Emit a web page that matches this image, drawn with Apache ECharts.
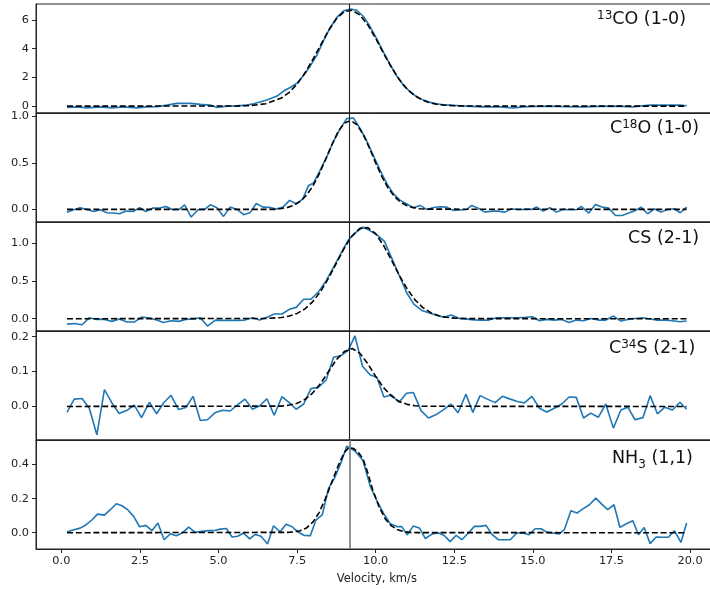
<!DOCTYPE html>
<html><head><meta charset="utf-8">
<script src="https://cdn.jsdelivr.net/npm/echarts@6/dist/echarts.min.js"></script>
<style>html,body{margin:0;padding:0;background:#fff}#c{width:710px;height:589px}</style>
</head><body><div id="c"></div>
<script>
// ---------- data ----------
const co13V = [0.18,0.5,0.82,1.24,1.61,1.98,2.41,2.72,3.04,3.36,3.68,4.1,4.42,4.74,4.95,5.27,5.58,5.9,6.12,6.54,6.86,7.07,7.28,7.5,7.71,7.92,8.14,8.35,8.56,8.77,8.98,9.19,9.4,9.61,9.82,10.03,10.25,10.46,10.67,10.88,11.09,11.3,11.52,11.73,11.94,12.15,12.36,12.68,12.89,13.42,13.95,14.37,14.69,15.1,15.54,16.1,16.6,17.1,17.66,18.19,18.72,19.25,19.67,19.89];
const co13T = [-0.09,-0.05,-0.12,-0.05,-0.12,-0.05,-0.12,-0.05,-0.04,0.07,0.19,0.19,0.12,0.07,-0.09,0.0,0.02,0.07,0.16,0.42,0.7,1.05,1.3,1.6,2.15,2.8,3.6,4.6,5.5,6.2,6.64,6.77,6.68,6.25,5.55,4.7,3.75,2.9,2.1,1.45,1.0,0.66,0.42,0.26,0.17,0.1,0.07,0.03,0.0,-0.05,-0.05,-0.13,-0.05,-0.02,0.0,-0.04,-0.05,-0.02,0.0,-0.05,0.08,0.07,0.07,0.02];
const co13FitV = [0.18,5.5,6.0,6.5,7.0,7.25,7.5,7.75,8.0,8.25,8.5,8.75,9.0,9.25,9.5,9.75,10.0,10.25,10.5,10.75,11.0,11.25,11.5,11.75,12.0,12.5,13.0,19.89];
const co13FitT = [0,0.006,0.035,0.16,0.565,0.96,1.54,2.31,3.25,4.27,5.27,6.09,6.59,6.68,6.35,5.66,4.72,3.69,2.70,1.86,1.19,0.72,0.41,0.215,0.107,0.021,0.003,0];

const c18oV = [0.18,0.39,0.60,0.82,1.03,1.24,1.45,1.66,1.85,2.07,2.28,2.49,2.69,2.90,3.12,3.33,3.54,3.75,3.92,4.13,4.35,4.56,4.74,4.95,5.16,5.37,5.59,5.80,6.01,6.20,6.41,6.62,6.84,7.05,7.26,7.47,7.68,7.86,8.02,8.23,8.44,8.65,8.87,9.08,9.29,9.5,9.71,9.93,10.14,10.35,10.56,10.77,10.99,11.2,11.41,11.62,11.84,12.05,12.26,12.47,12.69,12.9,13.05,13.26,13.47,13.68,13.89,14.11,14.32,14.53,14.74,14.96,15.12,15.33,15.54,15.75,15.96,16.17,16.38,16.54,16.78,16.99,17.2,17.41,17.63,17.84,18.05,18.26,18.44,18.65,18.86,19.07,19.29,19.5,19.69,19.89];
const c18oT = [-0.029,-0.004,0.018,0.0,-0.022,-0.004,-0.036,-0.039,-0.047,-0.018,-0.022,0.018,-0.022,0.014,0.014,0.032,-0.004,0.0,0.05,-0.082,-0.004,0.0,0.05,0.018,-0.075,0.025,0.0,-0.057,-0.032,0.063,0.025,0.022,0.004,0.025,0.097,0.061,0.11,0.255,0.283,0.419,0.563,0.724,0.867,0.975,0.982,0.87,0.74,0.575,0.42,0.28,0.17,0.1,0.058,0.018,0.043,0.0,0.02,0.028,0.025,-0.011,-0.006,0.0,0.043,0.014,-0.029,-0.018,-0.018,-0.029,0.007,-0.004,0.0,0.0,0.025,-0.018,0.018,-0.029,0.0,-0.004,-0.004,0.032,-0.039,0.054,0.025,0.014,-0.065,-0.065,-0.039,-0.011,0.025,-0.047,0.007,-0.029,0.0,0.007,-0.036,0.025];
const c18oFitV = [0.18,6.8,7.0,7.2,7.4,7.6,7.8,8.0,8.2,8.4,8.6,8.8,9.0,9.2,9.4,9.6,9.8,10.0,10.2,10.4,10.6,10.8,11.0,11.2,11.4,11.6,19.89];
const c18oFitT = [0,0.001,0.01,0.022,0.045,0.086,0.152,0.249,0.378,0.531,0.69,0.831,0.926,0.955,0.911,0.806,0.659,0.499,0.35,0.227,0.137,0.076,0.039,0.019,0.008,0.003,0];

const csV = [0.18,0.41,0.66,0.89,1.13,1.37,1.61,1.84,2.09,2.32,2.55,2.80,3.03,3.25,3.49,3.73,3.96,4.19,4.42,4.65,4.90,5.13,5.37,5.61,5.84,6.08,6.31,6.54,6.77,7.02,7.25,7.47,7.71,7.94,8.18,8.42,8.66,8.89,9.13,9.37,9.59,9.83,10.06,10.28,10.52,10.75,10.99,11.22,11.47,11.71,11.95,12.18,12.40,12.65,12.9,13.13,13.37,13.60,13.84,14.07,14.31,14.55,14.78,14.98,15.21,15.44,15.68,15.92,16.15,16.38,16.61,16.84,17.08,17.32,17.56,17.80,18.02,18.25,18.50,18.73,18.96,19.20,19.44,19.68,19.89];
const csT = [-0.071,-0.062,-0.08,0.013,-0.009,-0.009,-0.035,-0.004,-0.044,-0.044,0.022,0.009,-0.018,-0.049,-0.027,-0.035,-0.009,-0.004,0.013,-0.097,-0.018,-0.022,-0.022,-0.022,-0.018,0.013,-0.018,0.018,0.062,0.062,0.124,0.15,0.257,0.257,0.355,0.50,0.68,0.86,1.04,1.14,1.21,1.16,1.10,1.02,0.79,0.57,0.34,0.19,0.11,0.075,0.045,0.018,0.049,0.005,-0.005,-0.015,-0.018,-0.018,0.013,0.013,0.013,0.013,0.02,0.027,-0.027,-0.009,-0.018,-0.009,-0.049,-0.018,-0.027,0.004,-0.018,-0.018,0.035,-0.031,-0.009,0.004,0.013,-0.004,-0.018,-0.018,-0.027,-0.04,-0.031];
const csFitV = [0.18,6.5,7.0,7.25,7.5,7.75,8.0,8.25,8.5,8.75,9.0,9.25,9.5,9.75,10.0,10.25,10.5,10.75,11.0,11.25,11.5,11.75,12.0,12.25,12.5,13.0,19.89];
const csFitT = [0,0.003,0.016,0.035,0.070,0.130,0.226,0.361,0.535,0.734,0.932,1.096,1.193,1.203,1.122,0.969,0.775,0.573,0.393,0.249,0.146,0.080,0.040,0.019,0.008,0.001,0];

const c34sV = [0.18,0.41,0.66,0.89,1.13,1.37,1.61,1.84,2.09,2.32,2.55,2.80,3.03,3.25,3.49,3.73,3.96,4.19,4.42,4.65,4.90,5.13,5.37,5.61,5.84,6.08,6.31,6.54,6.77,7.02,7.25,7.47,7.71,7.94,8.18,8.42,8.66,8.88,9.12,9.34,9.58,9.82,10.04,10.26,10.50,10.74,10.98,11.20,11.44,11.68,11.91,12.16,12.39,12.62,12.87,13.09,13.32,13.55,13.80,14.03,14.28,14.51,14.73,14.97,15.21,15.44,15.68,15.92,16.15,16.38,16.61,16.84,17.08,17.32,17.56,17.80,18.02,18.25,18.50,18.73,18.96,19.20,19.44,19.68,19.89];
const c34sT = [-0.017,0.021,0.023,-0.005,-0.081,0.048,0.01,-0.02,-0.011,0.004,-0.032,0.012,-0.021,0.01,0.032,-0.009,-0.003,0.029,-0.04,-0.038,-0.017,-0.011,-0.013,0.005,0.021,-0.008,0.002,0.022,-0.025,0.028,0.011,-0.008,0.007,0.051,0.055,0.075,0.141,0.145,0.16,0.202,0.115,0.091,0.083,0.027,0.033,0.012,0.038,0.04,-0.012,-0.033,-0.024,-0.009,0.007,-0.018,0.035,-0.017,0.031,0.021,0.011,0.029,0.021,0.014,0.01,0.029,-0.005,-0.016,-0.005,0.007,0.027,0.026,-0.033,-0.019,-0.031,0.007,-0.062,-0.01,-0.002,-0.038,-0.032,0.031,-0.021,-0.002,-0.01,0.012,-0.008];
const c34sFitV = [0.18,7.0,7.25,7.5,7.75,8.0,8.25,8.5,8.75,9.0,9.25,9.5,9.75,10.0,10.25,10.5,10.75,11.0,11.25,11.5,19.89];
const c34sFitT = [0,0.001,0.004,0.009,0.02,0.039,0.066,0.1,0.134,0.157,0.166,0.152,0.122,0.086,0.054,0.03,0.014,0.006,0.002,0.0005,0];

const nh3V = [0.18,0.37,0.60,0.79,0.98,1.15,1.37,1.56,1.75,1.93,2.11,2.30,2.49,2.69,2.88,3.07,3.27,3.47,3.66,3.84,4.05,4.26,4.47,4.68,4.90,5.06,5.25,5.43,5.61,5.80,5.99,6.17,6.35,6.56,6.75,6.96,7.15,7.34,7.53,7.73,7.92,8.10,8.30,8.50,8.69,8.89,9.08,9.35,9.59,9.84,10.06,10.26,10.46,10.67,10.83,11.0,11.20,11.40,11.58,11.79,12.0,12.18,12.37,12.56,12.74,12.95,13.14,13.32,13.51,13.69,13.90,14.09,14.28,14.49,14.68,14.88,15.07,15.26,15.46,15.65,15.83,16.0,16.21,16.40,16.59,16.80,17.0,17.19,17.38,17.58,17.77,17.96,18.18,18.36,18.54,18.73,18.92,19.12,19.31,19.50,19.71,19.89];
const nh3T = [0.004,0.016,0.027,0.047,0.076,0.109,0.103,0.135,0.17,0.158,0.135,0.096,0.035,0.043,0.012,0.057,-0.041,-0.006,-0.018,-0.002,0.033,0.002,0.008,0.012,0.014,0.021,0.025,-0.025,-0.021,-0.002,-0.036,-0.01,-0.021,-0.066,0.041,0.005,0.049,0.035,0.004,-0.016,-0.017,0.075,0.104,0.26,0.32,0.408,0.508,0.477,0.425,0.265,0.18,0.11,0.053,0.036,0.036,-0.013,0.04,0.026,-0.034,-0.008,-0.002,-0.016,-0.052,-0.015,-0.041,-0.002,0.037,0.037,0.043,-0.008,-0.041,-0.041,-0.041,-0.002,-0.002,-0.012,0.023,0.023,0.002,-0.002,-0.008,0.018,0.129,0.115,0.14,0.164,0.203,0.168,0.135,0.164,0.031,0.051,0.07,-0.012,0.031,-0.064,-0.025,-0.027,-0.027,0.012,-0.057,0.057];
const nh3FitV = [0.18,7.2,7.4,7.6,7.8,8.0,8.2,8.4,8.6,8.8,9.0,9.15,9.3,9.45,9.6,9.75,9.9,10.1,10.3,10.5,10.7,10.9,11.1,11.3,19.89];
const nh3FitT = [0,0.002,0.005,0.012,0.028,0.062,0.118,0.2,0.295,0.39,0.47,0.5,0.493,0.47,0.432,0.35,0.255,0.155,0.082,0.04,0.017,0.006,0.002,0.0005,0];

const xTickValues = [0,2.5,5,7.5,10,12.5,15,17.5,20];
const yTickValues = [[0,2,4,6],[0,0.5,1.0],[0,0.5,1.0],[0,0.1,0.2],[0,0.2,0.4]];
const yTickDecimals = [0,1,1,1,1];
const centreVelocity = 9.16;
const lineLabels = ['{sup|13}{m|CO (1-0)}','{m|C}{sup|18}{m|O (1-0)}','{m|CS (2-1)}','{m|C}{sup|34}{m|S (2-1)}','{m|NH}{sub|3}{m| (1,1)}'];
const xAxisTitle = 'Velocity, km/s';

// ---------- layout ----------
const FONT = 'DejaVu Sans';
const panelTop = [4,113,222,331,440];
const panelH = 109;
const yRange = [[-0.48,7.12],[-0.135,1.035],[-0.162,1.277],[-0.096,0.216],[-0.0955,0.5437]];
const labelPos = [[597,10],[610,119],[628,229],[609,339],[612,449]];

const obs = [[co13V,co13T],[c18oV,c18oT],[csV,csT],[c34sV,c34sT],[nh3V,nh3T]];
const fits = [[co13FitV,co13FitT],[c18oFitV,c18oFitT],[csFitV,csFitT],[c34sFitV,c34sFitT],[nh3FitV,nh3FitT]];
const zip = (a,b) => a.map((v,i)=>[v,b[i]]);

const richStyles = {
  m:{fontSize:17.5, fontFamily:FONT, fill:'#111', verticalAlign:'top', lineHeight:21},
  sup:{fontSize:12, fontFamily:FONT, fill:'#111', verticalAlign:'top', lineHeight:14},
  sub:{fontSize:12, fontFamily:FONT, fill:'#111', verticalAlign:'top', lineHeight:14, padding:[10,0,0,0]}
};

const grids=[], xAxes=[], yAxes=[], series=[], graphics=[];
for (let k=0;k<5;k++){
  grids.push({left:36, top:panelTop[k], width:681.6, height:panelH, show:true, borderColor:'#222', borderWidth:1,
    backgroundColor:'transparent', containLabel:false, outerBoundsMode:'none'});
  const last = k===4;
  xAxes.push({type:'value', gridIndex:k, min:-0.806, max:20.876,
    axisLine:{show:true, onZero:false, lineStyle:{color:'#222', width:1}},
    axisTick:{show:last, length:4, lineStyle:{color:'#222'}, customValues:xTickValues},
    axisLabel:{show:last, customValues:xTickValues, margin:7, color:'#222', fontFamily:FONT, fontSize:11.3,
      formatter:v=>v.toFixed(1)},
    splitLine:{show:false},
    name:last?xAxisTitle:'', nameLocation:'middle', nameGap:24,
    nameTextStyle:{color:'#222', fontFamily:FONT, fontSize:11.5}});
  yAxes.push({type:'value', gridIndex:k, min:yRange[k][0], max:yRange[k][1],
    axisLine:{show:true, onZero:false, lineStyle:{color:'#222', width:1}},
    axisTick:{show:true, length:4, lineStyle:{color:'#222'}, customValues:yTickValues[k]},
    axisLabel:{customValues:yTickValues[k], margin:7, color:'#222', fontFamily:FONT, fontSize:11.3,
      formatter:v=>v.toFixed(yTickDecimals[k])},
    splitLine:{show:false}});
  series.push({type:'line', xAxisIndex:k, yAxisIndex:k, data:zip(obs[k][0],obs[k][1]),
    showSymbol:false, symbol:'none', lineStyle:{color:'#1f77b4', width:1.6}, z:2, animation:false,
    markLine:{silent:true, symbol:'none', label:{show:false}, animation:false,
      lineStyle:{color: k===4?'#777':'#222', width: k===4?1.6:1.1, type:'solid'},
      data:[{xAxis:centreVelocity}]}});
  series.push({type:'line', xAxisIndex:k, yAxisIndex:k, data:zip(fits[k][0],fits[k][1]),
    showSymbol:false, symbol:'none', lineStyle:{color:'#000', width:1.6, type:[6,2.8]}, z:3, animation:false});
  graphics.push({type:'text', x:labelPos[k][0], y:labelPos[k][1], z:10,
    style:{text:lineLabels[k], fill:'#111', fontFamily:FONT, fontSize:17.5,
      align:'left', verticalAlign:'top', rich:richStyles}});
}

const chart = echarts.init(document.getElementById('c'), null, {renderer:'canvas'});
chart.setOption({animation:false, backgroundColor:'#fff', grid:grids, xAxis:xAxes, yAxis:yAxes, series:series, graphic:graphics});
</script></body></html>
